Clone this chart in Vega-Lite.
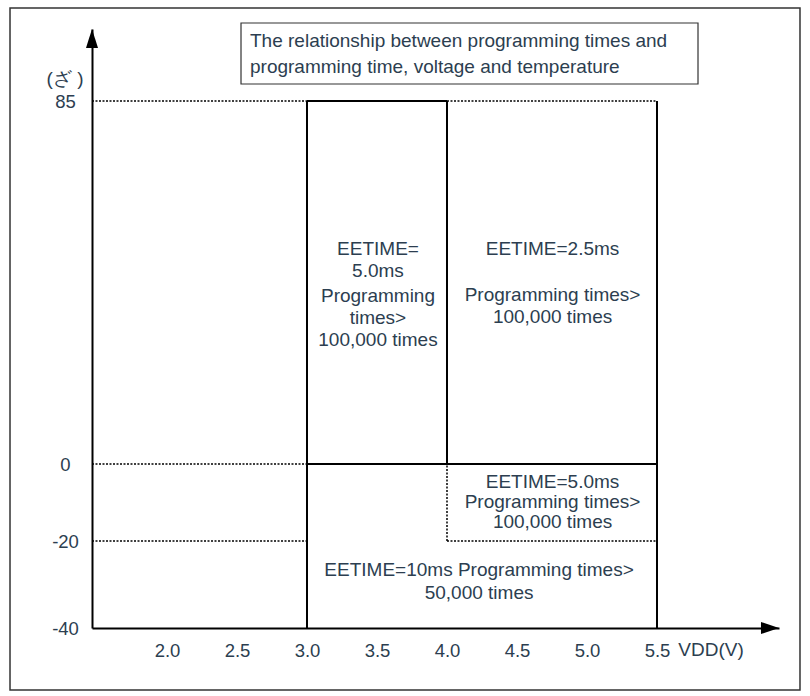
{
  "$schema": "https://vega.github.io/schema/vega-lite/v6.json",
  "width": 687,
  "height": 599,
  "autosize": "none",
  "padding": {"left": 92, "top": 29, "right": 31, "bottom": 68},
  "background": "white",
  "config": {"view": {"stroke": null}, "font": "Liberation Sans"},
  "datasets": {
    "frame": [{"x": 0.8786, "x2": 6.5214, "y": 106.78, "y2": -54.25}],
    "titlebox": [{"x": 2.5286, "x2": 5.7929, "y": 103.26, "y2": 88.98}],
    "solid": [
      {"x": 3.0, "x2": 3.0, "y": -40, "y2": 85},
      {"x": 3.0, "x2": 4.0, "y": 85, "y2": 85},
      {"x": 4.0, "x2": 4.0, "y": 0, "y2": 85},
      {"x": 5.5, "x2": 5.5, "y": -40, "y2": 85},
      {"x": 3.0, "x2": 5.5, "y": 0, "y2": 0}
    ],
    "dotted": [
      {"x": 1.464286, "x2": 3.0, "y": 85, "y2": 85},
      {"x": 1.464286, "x2": 3.0, "y": 0, "y2": 0},
      {"x": 1.464286, "x2": 3.0, "y": -20, "y2": -20},
      {"x": 4.0, "x2": 5.5, "y": 85, "y2": 85},
      {"x": 4.0, "x2": 4.0, "y": -20, "y2": 0},
      {"x": 4.0, "x2": 5.5, "y": -20, "y2": -20}
    ],
    "labels": [
      {"x": 3.507, "y": 50.34, "text": "EETIME="},
      {"x": 3.507, "y": 45.19, "text": "5.0ms"},
      {"x": 3.507, "y": 39.34, "text": "Programming"},
      {"x": 3.507, "y": 34.19, "text": "times>"},
      {"x": 3.507, "y": 29.04, "text": "100,000 times"},
      {"x": 4.754, "y": 50.34, "text": "EETIME=2.5ms"},
      {"x": 4.754, "y": 39.57, "text": "Programming times>"},
      {"x": 4.754, "y": 34.42, "text": "100,000 times"},
      {"x": 4.754, "y": -4.68, "text": "EETIME=5.0ms"},
      {"x": 4.754, "y": -9.87, "text": "Programming times>"},
      {"x": 4.754, "y": -15.06, "text": "100,000 times"},
      {"x": 4.229, "y": -26.67, "text": "EETIME=10ms Programming times>"},
      {"x": 4.229, "y": -31.95, "text": "50,000 times"},
      {"x": 1.2714, "y": 90.15, "text": "(ざ )"},
      {"x": 5.886, "y": -45.06, "text": "VDD(V)"}
    ],
    "title": [
      {"x": 2.5929, "y": 97.64, "text": "The relationship between programming times and"},
      {"x": 2.5929, "y": 91.56, "text": "programming time, voltage and temperature"}
    ],
    "arrowX": [{"x": 6.307, "y": -40}],
    "arrowY": [{"x": 1.464286, "y": 99.63}]
  },
  "encoding": {
    "x": {
      "field": "x",
      "type": "quantitative",
      "scale": {"domain": [1.464286, 6.371429], "nice": false, "zero": false},
      "axis": {
        "values": [2, 2.5, 3, 3.5, 4, 4.5, 5, 5.5],
        "format": ".1f",
        "title": null,
        "ticks": false,
        "tickSize": 0,
        "grid": false,
        "domainColor": "black",
        "domainWidth": 2,
        "labelFontSize": 18.5,
        "labelColor": "#2c3e50",
        "labelPadding": 22,
        "labelBaseline": "middle",
        "labelFlush": false,
        "labelOverlap": false
      }
    },
    "y": {
      "field": "y",
      "type": "quantitative",
      "scale": {"domain": [-40, -20, 0, 85, 101.86], "range": [599, 512, 435, 72, 0], "nice": false, "zero": false},
      "axis": {
        "values": [-40, -20, 0, 85],
        "labelExpr": "'' + datum.value",
        "title": null,
        "ticks": false,
        "tickSize": 0,
        "grid": false,
        "domainColor": "black",
        "domainWidth": 2,
        "labelFontSize": 18.5,
        "labelColor": "#2c3e50",
        "labelPadding": 27,
        "labelAlign": "center",
        "labelBaseline": "middle",
        "labelFlush": false,
        "labelOverlap": false
      }
    }
  },
  "layer": [
    {
      "data": {"name": "frame"},
      "mark": {"type": "rect", "fill": null, "stroke": "#333333", "strokeWidth": 1.5},
      "encoding": {"x2": {"field": "x2"}, "y2": {"field": "y2"}}
    },
    {
      "data": {"name": "solid"},
      "mark": {"type": "rule", "color": "black", "strokeWidth": 2},
      "encoding": {"x2": {"field": "x2"}, "y2": {"field": "y2"}}
    },
    {
      "data": {"name": "dotted"},
      "mark": {"type": "rule", "color": "black", "strokeWidth": 1.5, "strokeDash": [2, 1.5]},
      "encoding": {"x2": {"field": "x2"}, "y2": {"field": "y2"}}
    },
    {
      "data": {"name": "titlebox"},
      "mark": {"type": "rect", "fill": "white", "stroke": "#333333", "strokeWidth": 1.2},
      "encoding": {"x2": {"field": "x2"}, "y2": {"field": "y2"}}
    },
    {
      "data": {"name": "labels"},
      "mark": {"type": "text", "fontSize": 19, "color": "#2c3e50", "align": "center", "baseline": "middle"},
      "encoding": {"text": {"field": "text"}}
    },
    {
      "data": {"name": "title"},
      "mark": {"type": "text", "fontSize": 19, "color": "#2c3e50", "align": "left", "baseline": "alphabetic"},
      "encoding": {"text": {"field": "text"}}
    },
    {
      "data": {"name": "arrowX"},
      "mark": {"type": "point", "shape": "M-1,-0.667L1,0L-1,0.667Z", "filled": true, "color": "black", "size": 324, "opacity": 1},
      "encoding": {}
    },
    {
      "data": {"name": "arrowY"},
      "mark": {"type": "point", "shape": "M-0.632,1L0,-1L0.632,1Z", "filled": true, "color": "black", "size": 361, "opacity": 1},
      "encoding": {}
    }
  ]
}
